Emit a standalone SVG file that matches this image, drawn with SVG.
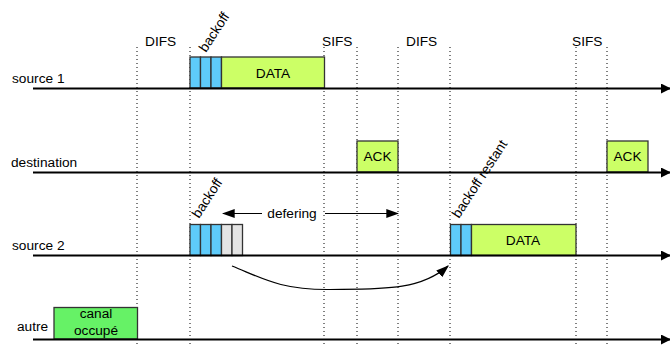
<svg xmlns="http://www.w3.org/2000/svg" width="670" height="345" viewBox="0 0 670 345">
<defs>
<style>
text{font-family:"Liberation Sans",Arial,sans-serif;font-size:13.7px;fill:#000}
.axis{stroke:#000;stroke-width:2.2;fill:none}
.dot{stroke:#000;stroke-width:1;stroke-dasharray:1 3;fill:none}
.box{stroke:#333;stroke-width:1.3}
.blue{fill:#5ECBFA}
.lime{fill:#CCFF66}
.grey{fill:#E4E4E4}
.green{fill:#66F266}
.mid{text-anchor:middle}
</style>
<marker id="ah" viewBox="0 0 10 10" refX="9" refY="5" markerWidth="10" markerHeight="10" markerUnits="userSpaceOnUse" orient="auto">
<path d="M0,0 L10,5 L0,10 Z" fill="#000"/>
</marker>
<marker id="ahs" viewBox="0 0 10 10" refX="9" refY="5" markerWidth="13" markerHeight="9" markerUnits="userSpaceOnUse" orient="auto-start-reverse" preserveAspectRatio="none">
<path d="M0,0 L10,5 L0,10 Z" fill="#000"/>
</marker>
</defs>
<rect width="670" height="345" fill="#fff"/>
<g id="grid">
<line class="dot" x1="137" y1="47" x2="137" y2="345"/>
<line class="dot" x1="190" y1="47" x2="190" y2="345"/>
<line class="dot" x1="324" y1="47" x2="324" y2="345"/>
<line class="dot" x1="357" y1="47" x2="357" y2="345"/>
<line class="dot" x1="398" y1="47" x2="398" y2="345"/>
<line class="dot" x1="450" y1="47" x2="450" y2="345"/>
<line class="dot" x1="576" y1="47" x2="576" y2="345"/>
<line class="dot" x1="607" y1="47" x2="607" y2="345"/>
<text x="145" y="46">DIFS</text>
<text x="322" y="46">SIFS</text>
<text x="406" y="46">DIFS</text>
<text x="572" y="46">SIFS</text>
</g>
<g id="source1">
<text x="12" y="83">source 1</text>
<rect class="box blue" x="190" y="57" width="10.5" height="31"/>
<rect class="box blue" x="200.5" y="57" width="10.5" height="31"/>
<rect class="box blue" x="211" y="57" width="10.5" height="31"/>
<rect class="box lime" x="221.5" y="57" width="103" height="31"/>
<text class="mid" x="273" y="78">DATA</text>
<text transform="translate(206,53) rotate(-57)">backoff</text>
</g>
<g id="destination">
<text x="11" y="167">destination</text>
<rect class="box lime" x="357" y="141" width="41" height="31"/>
<text class="mid" x="377.5" y="161">ACK</text>
<rect class="box lime" x="607" y="141" width="41" height="31"/>
<text class="mid" x="627.5" y="161">ACK</text>
</g>
<g id="source2">
<text x="12" y="250">source 2</text>
<rect class="box blue" x="190" y="224.5" width="10.5" height="31"/>
<rect class="box blue" x="200.5" y="224.5" width="10.5" height="31"/>
<rect class="box blue" x="211" y="224.5" width="10.5" height="31"/>
<rect class="box grey" x="221.5" y="224.5" width="10.5" height="31"/>
<rect class="box grey" x="232" y="224.5" width="10.5" height="31"/>
<text transform="translate(199,219) rotate(-57)">backoff</text>
<rect class="box blue" x="450.5" y="224.5" width="10.5" height="31"/>
<rect class="box blue" x="461" y="224.5" width="10.5" height="31"/>
<rect class="box lime" x="471.5" y="224.5" width="104.5" height="31"/>
<text class="mid" x="523" y="245">DATA</text>
<text transform="translate(459,219) rotate(-57)">backoff restant</text>
<text class="mid" x="292" y="218">defering</text>
</g>
<g id="autre">
<text x="17" y="331">autre</text>
<rect class="box green" x="54" y="307.5" width="83.5" height="31.5"/>
<text class="mid" x="96" y="318">canal</text>
<text class="mid" x="96" y="335">occupé</text>
</g>
<g id="connectors">
<line class="axis" x1="33" y1="88.5" x2="670" y2="88.5" marker-end="url(#ah)"/>
<line class="axis" x1="33" y1="172.5" x2="670" y2="172.5" marker-end="url(#ah)"/>
<line class="axis" x1="33" y1="255.5" x2="670" y2="255.5" marker-end="url(#ah)"/>
<line class="axis" x1="33" y1="339.5" x2="670" y2="339.5" marker-end="url(#ah)"/>
<line stroke="#000" stroke-width="1.2" x1="262" y1="213.5" x2="223" y2="213.5" marker-end="url(#ahs)"/>
<line stroke="#000" stroke-width="1.2" x1="325" y1="213.5" x2="398" y2="213.5" marker-end="url(#ahs)"/>
<path d="M232,266 C262,278 280,290 330,289.5 C380,289 420,291 448,266" fill="none" stroke="#000" stroke-width="1.2" marker-end="url(#ahs)"/>
</g>
</svg>
